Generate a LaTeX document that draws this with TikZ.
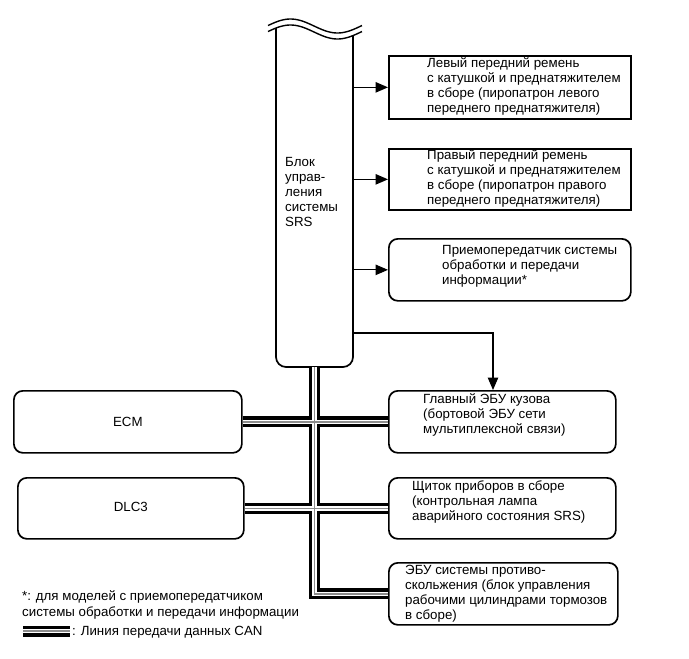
\documentclass[tikz,border=0pt]{standalone}
\usepackage{fontspec}
\setmainfont{Liberation Sans}
\usetikzlibrary{arrows.meta}
\begin{document}
\begin{tikzpicture}[x=1pt,y=-1pt,
  box/.style={draw, line width=1.7pt, inner sep=0pt, anchor=north west},
  rbox/.style={box, rounded corners=9pt},
  hidden/.style={inner sep=0pt, minimum width=77pt, minimum height=342pt},
  txt/.style={font=\fontsize{13.3}{15}\selectfont, align=left, inner sep=0pt, anchor=west},
  arr/.style={line width=1.1pt, -{Triangle[length=12.5pt,width=10.5pt]}},
  canblack/.style={line width=11pt, black},
  canwhite/.style={line width=4.5pt, white},
  cangray/.style={line width=1.3pt, black!45}]
\useasboundingbox (0,0) rectangle (689,659);

% SRS block (named frame) and its drawn outline
\node[hidden] (srs) at (314.5,196) {};
\draw[line width=1.7pt, rounded corners=10pt] (276,28) -- (276,367) -- (353,367) -- (353,35.6);
\draw[line width=1.4pt] plot[domain=268:362, samples=50] (\x, {26-7*sin(((\x-267)/47)*180)});
\draw[line width=1.4pt] plot[domain=268:362, samples=50] (\x, {32-7*sin(((\x-267)/47)*180)});
\node[txt] (srst) at (285,192) {Блок\\управ-\\ления\\системы\\SRS};

% right column boxes
\node[box, minimum width=242pt, minimum height=63pt] (b1) at (388,55) {};
\node[txt] (t1) at (427,86.5) {Левый передний ремень\\с катушкой и преднатяжителем\\в сборе (пиропатрон левого\\переднего преднатяжителя)};
\node[box, minimum width=242pt, minimum height=61pt] (b2) at (388,148) {};
\node[txt] (t2) at (427,178.5) {Правый передний ремень\\с катушкой и преднатяжителем\\в сборе (пиропатрон правого\\переднего преднатяжителя)};
\node[rbox, minimum width=242pt, minimum height=62pt] (b3) at (388,238) {};
\node[txt] (t3) at (442,266) {Приемопередатчик системы\\обработки и передачи\\информации*};
\node[rbox, minimum width=227pt, minimum height=62pt] (main) at (388,390) {};
\node[txt] (t4) at (423,415) {Главный ЭБУ кузова\\(бортовой ЭБУ сети\\мультиплексной связи)};
\node[rbox, minimum width=227pt, minimum height=61pt] (panel) at (388,477) {};
\node[txt] (t5) at (412,502) {Щиток приборов в сборе\\(контрольная лампа\\аварийного состояния SRS)};
\node[rbox, minimum width=229pt, minimum height=62pt] (ebu) at (388,562) {};
\node[txt] (t6) at (405,594) {ЭБУ системы противо-\\скольжения (блок управления\\рабочими цилиндрами тормозов\\в сборе)};

% left boxes
\node[rbox, minimum width=228pt, minimum height=62pt] (ecm) at (13,390) {};
\node[txt, anchor=center] (t7) at (ecm.center) {ECM};
\node[rbox, minimum width=226pt, minimum height=61pt] (dlc) at (17,477) {};
\node[txt, anchor=center] (t8) at ([yshift=1.5]dlc.center) {DLC3};

% arrows
\draw[arr] (srs.east |- b1.west) -- (b1.west);
\draw[arr] (srs.east |- b2.west) -- (b2.west);
\draw[arr] (srs.east |- b3.west) -- (b3.west);
\coordinate (turn) at (493,333);
\draw[arr] (srs.east |- turn) -- (turn) -- (turn |- main.north);

% CAN bus
\foreach \st in {canblack,canwhite,cangray}{
  \draw[\st] (srs.south) -- (srs.south |- ebu.west) -- (ebu.west);
  \draw[\st] (ecm.east) -- (main.west);
  \draw[\st] (dlc.east) -- (panel.west);
  \draw[\st] (23,631) -- (70,631);
}

% legend
\node[txt, font=\fontsize{13.3}{16}\selectfont] (leg1) at (22,605) {*: для моделей с приемопередатчиком\\системы обработки и передачи информации};
\node[txt] (leg2) at (72,632) {: Линия передачи данных CAN};
\end{tikzpicture}
\end{document}
